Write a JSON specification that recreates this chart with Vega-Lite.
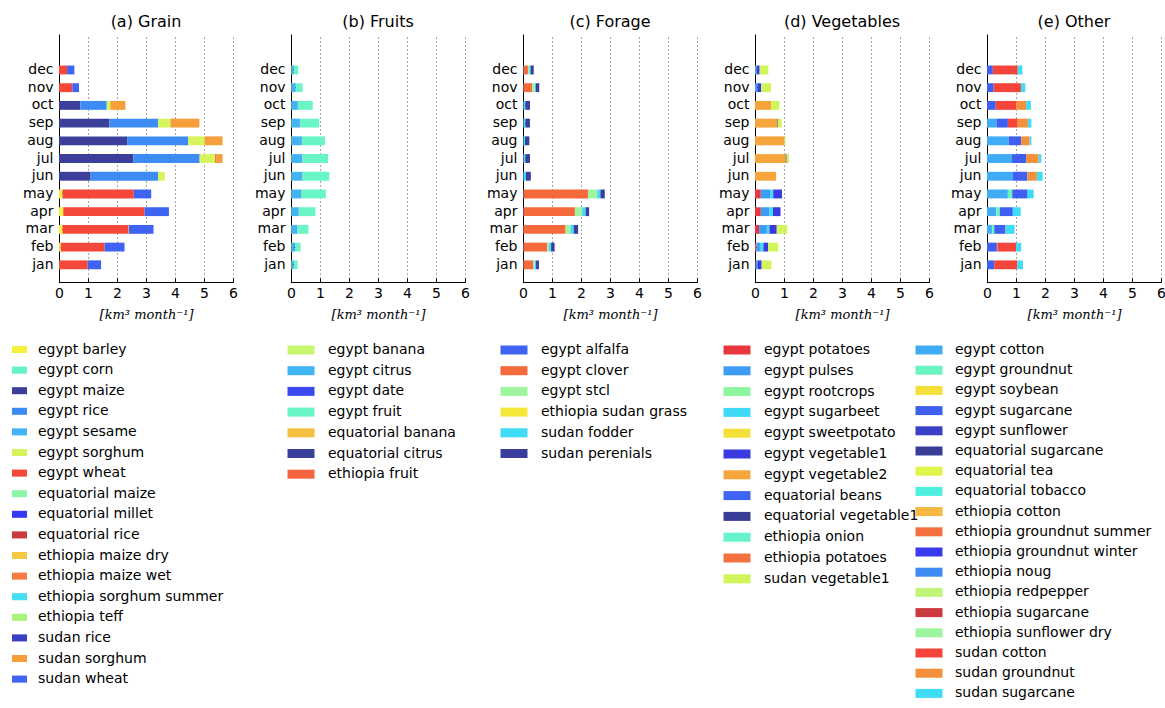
{
  "$schema": "https://vega.github.io/schema/vega-lite/v6.json",
  "padding": {"left": 12, "top": 14, "right": 2, "bottom": 2},
  "background": "white",
  "bounds": "flush",
  "spacing": 58,
  "config": {
    "view": {"stroke": null},
    "font": "DejaVu Sans",
    "title": {"fontSize": 16, "fontWeight": "normal", "color": "#000", "offset": 4, "font": "DejaVu Sans"},
    "bar": {"strokeWidth": 0, "height": {"band": 0.5}},
    "axisX": {
      "values": [0, 1, 2, 3, 4, 5, 6], "grid": true, "gridDash": [1, 3], "gridColor": "#000", "gridOpacity": 0.7,
      "domainColor": "#000", "tickColor": "#000", "tickSize": -4, "labelPadding": 8, "labelFontSize": 14, "labelColor": "#000",
      "labelFont": "DejaVu Sans", "labelFlush": false,
      "titleFont": "DejaVu Serif", "titleFontStyle": "italic", "titleFontWeight": "normal", "titleFontSize": 13, "titleColor": "#000", "titlePadding": 8
    },
    "axisY": {
      "grid": false, "domainColor": "#000", "tickColor": "#000", "tickSize": -4, "labelPadding": 10, "labelFontSize": 14, "labelColor": "#000", "labelFont": "DejaVu Sans", "title": null
    },
    "legend": {"title": null, "labelFontSize": 14, "labelFont": "DejaVu Sans", "labelColor": "#000", "labelLimit": 400, "symbolOpacity": 1, "symbolStrokeWidth": 0, "orient": "none"}
  },
  "datasets": {
    "grain": [
      {"m": "dec", "c": "egypt wheat", "v": 0.28}, {"m": "dec", "c": "sudan wheat", "v": 0.25},
      {"m": "nov", "c": "egypt wheat", "v": 0.46}, {"m": "nov", "c": "sudan wheat", "v": 0.23},
      {"m": "oct", "c": "egypt maize", "v": 0.74}, {"m": "oct", "c": "egypt rice", "v": 0.88}, {"m": "oct", "c": "egypt sesame", "v": 0.03}, {"m": "oct", "c": "egypt sorghum", "v": 0.12}, {"m": "oct", "c": "sudan sorghum", "v": 0.52},
      {"m": "sep", "c": "egypt maize", "v": 1.74}, {"m": "sep", "c": "egypt rice", "v": 1.68}, {"m": "sep", "c": "egypt sorghum", "v": 0.42}, {"m": "sep", "c": "sudan sorghum", "v": 1.0},
      {"m": "aug", "c": "egypt maize", "v": 2.35}, {"m": "aug", "c": "egypt rice", "v": 2.11}, {"m": "aug", "c": "egypt sorghum", "v": 0.56}, {"m": "aug", "c": "sudan sorghum", "v": 0.62},
      {"m": "jul", "c": "egypt maize", "v": 2.56}, {"m": "jul", "c": "egypt rice", "v": 2.29}, {"m": "jul", "c": "egypt sorghum", "v": 0.53}, {"m": "jul", "c": "ethiopia maize wet", "v": 0.06}, {"m": "jul", "c": "sudan sorghum", "v": 0.2},
      {"m": "jun", "c": "egypt maize", "v": 1.09}, {"m": "jun", "c": "egypt rice", "v": 2.33}, {"m": "jun", "c": "egypt sorghum", "v": 0.23},
      {"m": "may", "c": "egypt barley", "v": 0.12}, {"m": "may", "c": "egypt wheat", "v": 2.46}, {"m": "may", "c": "sudan wheat", "v": 0.6},
      {"m": "apr", "c": "egypt barley", "v": 0.15}, {"m": "apr", "c": "egypt wheat", "v": 2.8}, {"m": "apr", "c": "sudan wheat", "v": 0.84},
      {"m": "mar", "c": "egypt barley", "v": 0.12}, {"m": "mar", "c": "egypt wheat", "v": 2.27}, {"m": "mar", "c": "sudan sorghum", "v": 0.02}, {"m": "mar", "c": "sudan wheat", "v": 0.85},
      {"m": "feb", "c": "egypt barley", "v": 0.06}, {"m": "feb", "c": "egypt wheat", "v": 1.51}, {"m": "feb", "c": "sudan wheat", "v": 0.69},
      {"m": "jan", "c": "egypt barley", "v": 0.02}, {"m": "jan", "c": "egypt wheat", "v": 0.97}, {"m": "jan", "c": "sudan wheat", "v": 0.46}
    ],
    "fruits": [
      {"m": "dec", "c": "egypt banana", "v": 0.02}, {"m": "dec", "c": "egypt citrus", "v": 0.07}, {"m": "dec", "c": "egypt date", "v": 0.01}, {"m": "dec", "c": "egypt fruit", "v": 0.15},
      {"m": "nov", "c": "egypt banana", "v": 0.02}, {"m": "nov", "c": "egypt citrus", "v": 0.12}, {"m": "nov", "c": "egypt date", "v": 0.02}, {"m": "nov", "c": "egypt fruit", "v": 0.24},
      {"m": "oct", "c": "egypt banana", "v": 0.02}, {"m": "oct", "c": "egypt citrus", "v": 0.19}, {"m": "oct", "c": "egypt date", "v": 0.02}, {"m": "oct", "c": "egypt fruit", "v": 0.52},
      {"m": "sep", "c": "egypt banana", "v": 0.02}, {"m": "sep", "c": "egypt citrus", "v": 0.26}, {"m": "sep", "c": "egypt date", "v": 0.02}, {"m": "sep", "c": "egypt fruit", "v": 0.67},
      {"m": "aug", "c": "egypt banana", "v": 0.02}, {"m": "aug", "c": "egypt citrus", "v": 0.33}, {"m": "aug", "c": "egypt date", "v": 0.02}, {"m": "aug", "c": "egypt fruit", "v": 0.8},
      {"m": "jul", "c": "egypt banana", "v": 0.02}, {"m": "jul", "c": "egypt citrus", "v": 0.35}, {"m": "jul", "c": "egypt date", "v": 0.02}, {"m": "jul", "c": "egypt fruit", "v": 0.89},
      {"m": "jun", "c": "egypt banana", "v": 0.02}, {"m": "jun", "c": "egypt citrus", "v": 0.35}, {"m": "jun", "c": "egypt date", "v": 0.02}, {"m": "jun", "c": "egypt fruit", "v": 0.93},
      {"m": "may", "c": "egypt banana", "v": 0.02}, {"m": "may", "c": "egypt citrus", "v": 0.3}, {"m": "may", "c": "egypt date", "v": 0.02}, {"m": "may", "c": "egypt fruit", "v": 0.86},
      {"m": "apr", "c": "egypt banana", "v": 0.02}, {"m": "apr", "c": "egypt citrus", "v": 0.22}, {"m": "apr", "c": "egypt date", "v": 0.02}, {"m": "apr", "c": "egypt fruit", "v": 0.58},
      {"m": "mar", "c": "egypt banana", "v": 0.02}, {"m": "mar", "c": "egypt citrus", "v": 0.17}, {"m": "mar", "c": "egypt date", "v": 0.02}, {"m": "mar", "c": "egypt fruit", "v": 0.39},
      {"m": "feb", "c": "egypt banana", "v": 0.02}, {"m": "feb", "c": "egypt citrus", "v": 0.1}, {"m": "feb", "c": "egypt date", "v": 0.02}, {"m": "feb", "c": "egypt fruit", "v": 0.19},
      {"m": "jan", "c": "egypt banana", "v": 0.02}, {"m": "jan", "c": "egypt citrus", "v": 0.07}, {"m": "jan", "c": "egypt date", "v": 0.01}, {"m": "jan", "c": "egypt fruit", "v": 0.13}
    ],
    "forage": [
      {"m": "dec", "c": "egypt alfalfa", "v": 0.02}, {"m": "dec", "c": "egypt clover", "v": 0.15}, {"m": "dec", "c": "egypt stcl", "v": 0.05}, {"m": "dec", "c": "sudan fodder", "v": 0.04}, {"m": "dec", "c": "sudan perenials", "v": 0.11},
      {"m": "nov", "c": "egypt alfalfa", "v": 0.02}, {"m": "nov", "c": "egypt clover", "v": 0.3}, {"m": "nov", "c": "egypt stcl", "v": 0.08}, {"m": "nov", "c": "sudan fodder", "v": 0.04}, {"m": "nov", "c": "sudan perenials", "v": 0.12},
      {"m": "oct", "c": "egypt alfalfa", "v": 0.02}, {"m": "oct", "c": "sudan fodder", "v": 0.06}, {"m": "oct", "c": "sudan perenials", "v": 0.16},
      {"m": "sep", "c": "egypt alfalfa", "v": 0.02}, {"m": "sep", "c": "sudan fodder", "v": 0.06}, {"m": "sep", "c": "sudan perenials", "v": 0.16},
      {"m": "aug", "c": "egypt alfalfa", "v": 0.02}, {"m": "aug", "c": "sudan fodder", "v": 0.05}, {"m": "aug", "c": "sudan perenials", "v": 0.15},
      {"m": "jul", "c": "egypt alfalfa", "v": 0.02}, {"m": "jul", "c": "sudan fodder", "v": 0.06}, {"m": "jul", "c": "sudan perenials", "v": 0.16},
      {"m": "jun", "c": "egypt alfalfa", "v": 0.02}, {"m": "jun", "c": "sudan fodder", "v": 0.08}, {"m": "jun", "c": "sudan perenials", "v": 0.17},
      {"m": "may", "c": "egypt alfalfa", "v": 0.02}, {"m": "may", "c": "egypt clover", "v": 2.22}, {"m": "may", "c": "egypt stcl", "v": 0.32}, {"m": "may", "c": "sudan fodder", "v": 0.11}, {"m": "may", "c": "sudan perenials", "v": 0.15},
      {"m": "apr", "c": "egypt alfalfa", "v": 0.02}, {"m": "apr", "c": "egypt clover", "v": 1.77}, {"m": "apr", "c": "egypt stcl", "v": 0.25}, {"m": "apr", "c": "sudan fodder", "v": 0.12}, {"m": "apr", "c": "sudan perenials", "v": 0.12},
      {"m": "mar", "c": "egypt alfalfa", "v": 0.02}, {"m": "mar", "c": "egypt clover", "v": 1.45}, {"m": "mar", "c": "egypt stcl", "v": 0.17}, {"m": "mar", "c": "sudan fodder", "v": 0.11}, {"m": "mar", "c": "sudan perenials", "v": 0.15},
      {"m": "feb", "c": "egypt alfalfa", "v": 0.02}, {"m": "feb", "c": "egypt clover", "v": 0.82}, {"m": "feb", "c": "egypt stcl", "v": 0.06}, {"m": "feb", "c": "sudan fodder", "v": 0.07}, {"m": "feb", "c": "sudan perenials", "v": 0.12},
      {"m": "jan", "c": "egypt alfalfa", "v": 0.02}, {"m": "jan", "c": "egypt clover", "v": 0.34}, {"m": "jan", "c": "egypt stcl", "v": 0.04}, {"m": "jan", "c": "sudan fodder", "v": 0.05}, {"m": "jan", "c": "sudan perenials", "v": 0.1}
    ],
    "vegetables": [
      {"m": "dec", "c": "egypt pulses", "v": 0.06}, {"m": "dec", "c": "egypt vegetable1", "v": 0.1}, {"m": "dec", "c": "sudan vegetable1", "v": 0.3},
      {"m": "nov", "c": "egypt pulses", "v": 0.08}, {"m": "nov", "c": "egypt vegetable1", "v": 0.13}, {"m": "nov", "c": "sudan vegetable1", "v": 0.34},
      {"m": "oct", "c": "egypt vegetable2", "v": 0.56}, {"m": "oct", "c": "sudan vegetable1", "v": 0.28},
      {"m": "sep", "c": "egypt vegetable2", "v": 0.77}, {"m": "sep", "c": "equatorial vegetable1", "v": 0.02}, {"m": "sep", "c": "sudan vegetable1", "v": 0.13},
      {"m": "aug", "c": "egypt vegetable2", "v": 1.02}, {"m": "aug", "c": "sudan vegetable1", "v": 0.03},
      {"m": "jul", "c": "egypt vegetable2", "v": 1.06}, {"m": "jul", "c": "equatorial vegetable1", "v": 0.03}, {"m": "jul", "c": "sudan vegetable1", "v": 0.08},
      {"m": "jun", "c": "egypt vegetable2", "v": 0.73},
      {"m": "may", "c": "egypt potatoes", "v": 0.2}, {"m": "may", "c": "egypt pulses", "v": 0.32}, {"m": "may", "c": "egypt sugarbeet", "v": 0.11}, {"m": "may", "c": "egypt vegetable1", "v": 0.3},
      {"m": "apr", "c": "egypt potatoes", "v": 0.2}, {"m": "apr", "c": "egypt pulses", "v": 0.3}, {"m": "apr", "c": "egypt sugarbeet", "v": 0.12}, {"m": "apr", "c": "egypt vegetable1", "v": 0.26},
      {"m": "mar", "c": "egypt potatoes", "v": 0.14}, {"m": "mar", "c": "egypt pulses", "v": 0.27}, {"m": "mar", "c": "egypt sugarbeet", "v": 0.09}, {"m": "mar", "c": "egypt vegetable1", "v": 0.25}, {"m": "mar", "c": "sudan vegetable1", "v": 0.36},
      {"m": "feb", "c": "egypt potatoes", "v": 0.05}, {"m": "feb", "c": "egypt pulses", "v": 0.12}, {"m": "feb", "c": "egypt sugarbeet", "v": 0.12}, {"m": "feb", "c": "egypt vegetable1", "v": 0.16}, {"m": "feb", "c": "sudan vegetable1", "v": 0.35},
      {"m": "jan", "c": "egypt potatoes", "v": 0.02}, {"m": "jan", "c": "egypt pulses", "v": 0.08}, {"m": "jan", "c": "egypt vegetable1", "v": 0.13}, {"m": "jan", "c": "sudan vegetable1", "v": 0.34}
    ],
    "other": [
      {"m": "dec", "c": "egypt sugarcane", "v": 0.2}, {"m": "dec", "c": "sudan cotton", "v": 0.86}, {"m": "dec", "c": "sudan sugarcane", "v": 0.16},
      {"m": "nov", "c": "egypt sugarcane", "v": 0.23}, {"m": "nov", "c": "sudan cotton", "v": 0.94}, {"m": "nov", "c": "sudan sugarcane", "v": 0.15},
      {"m": "oct", "c": "egypt sugarcane", "v": 0.3}, {"m": "oct", "c": "sudan cotton", "v": 0.71}, {"m": "oct", "c": "sudan groundnut", "v": 0.34}, {"m": "oct", "c": "sudan sugarcane", "v": 0.16},
      {"m": "sep", "c": "egypt cotton", "v": 0.34}, {"m": "sep", "c": "egypt sugarcane", "v": 0.38}, {"m": "sep", "c": "sudan cotton", "v": 0.34}, {"m": "sep", "c": "sudan groundnut", "v": 0.35}, {"m": "sep", "c": "sudan sugarcane", "v": 0.12},
      {"m": "aug", "c": "egypt cotton", "v": 0.75}, {"m": "aug", "c": "egypt sugarcane", "v": 0.43}, {"m": "aug", "c": "sudan groundnut", "v": 0.29}, {"m": "aug", "c": "sudan sugarcane", "v": 0.06},
      {"m": "jul", "c": "egypt cotton", "v": 0.86}, {"m": "jul", "c": "egypt sugarcane", "v": 0.49}, {"m": "jul", "c": "sudan groundnut", "v": 0.43}, {"m": "jul", "c": "sudan sugarcane", "v": 0.09},
      {"m": "jun", "c": "egypt cotton", "v": 0.89}, {"m": "jun", "c": "egypt sugarcane", "v": 0.5}, {"m": "jun", "c": "sudan groundnut", "v": 0.33}, {"m": "jun", "c": "sudan sugarcane", "v": 0.2},
      {"m": "may", "c": "egypt cotton", "v": 0.72}, {"m": "may", "c": "egypt groundnut", "v": 0.15}, {"m": "may", "c": "egypt sugarcane", "v": 0.53}, {"m": "may", "c": "sudan sugarcane", "v": 0.21},
      {"m": "apr", "c": "egypt cotton", "v": 0.32}, {"m": "apr", "c": "egypt groundnut", "v": 0.12}, {"m": "apr", "c": "egypt sugarcane", "v": 0.45}, {"m": "apr", "c": "sudan sugarcane", "v": 0.27},
      {"m": "mar", "c": "egypt cotton", "v": 0.17}, {"m": "mar", "c": "egypt groundnut", "v": 0.08}, {"m": "mar", "c": "egypt sugarcane", "v": 0.38}, {"m": "mar", "c": "ethiopia sugarcane", "v": 0.01}, {"m": "mar", "c": "sudan sugarcane", "v": 0.31},
      {"m": "feb", "c": "egypt sugarcane", "v": 0.34}, {"m": "feb", "c": "ethiopia groundnut summer", "v": 0.03}, {"m": "feb", "c": "sudan cotton", "v": 0.63}, {"m": "feb", "c": "sudan sugarcane", "v": 0.18},
      {"m": "jan", "c": "egypt sugarcane", "v": 0.25}, {"m": "jan", "c": "sudan cotton", "v": 0.8}, {"m": "jan", "c": "sudan sugarcane", "v": 0.19}
    ]
  },
  "resolve": {"scale": {"color": "independent"}},
  "hconcat": [
    {
      "title": "(a) Grain", "width": 174, "height": 248, "data": {"name": "grain"}, "mark": "bar",
      "encoding": {
        "y": {"field": "m", "type": "nominal", "scale": {"domain": ["dec","nov","oct","sep","aug","jul","jun","may","apr","mar","feb","jan"], "paddingInner": 0, "paddingOuter": 1, "align": 0.765, "round": false}},
        "x": {"field": "v", "type": "quantitative", "stack": "zero", "scale": {"domain": [0, 6], "nice": false}, "title": "[km³ month⁻¹]"},
        "color": {"field": "c", "type": "nominal",
          "scale": {"domain": ["egypt barley","egypt corn","egypt maize","egypt rice","egypt sesame","egypt sorghum","egypt wheat","equatorial maize","equatorial millet","equatorial rice","ethiopia maize dry","ethiopia maize wet","ethiopia sorghum summer","ethiopia teff","sudan rice","sudan sorghum","sudan wheat"],
                    "range": ["#f4f23e","#66f2c8","#3b3f99","#3d8bf5","#40b4f5","#d6f55a","#f5483a","#8ef5a8","#3838f0","#cc3b3b","#f5c842","#f57b42","#42e0f0","#a8f57a","#3a3fbf","#f59e3a","#3f63f2"]},
          "legend": {"legendX": -47, "legendY": 308, "symbolType": "M-1,-0.47H1V0.47H-1Z", "symbolSize": 225, "rowPadding": 5.6, "labelOffset": 11}},
        "order": {"field": "c", "sort": "ascending"}
      }
    },
    {
      "title": "(b) Fruits", "width": 174, "height": 248, "data": {"name": "fruits"}, "mark": "bar",
      "encoding": {
        "y": {"field": "m", "type": "nominal", "scale": {"domain": ["dec","nov","oct","sep","aug","jul","jun","may","apr","mar","feb","jan"], "paddingInner": 0, "paddingOuter": 1, "align": 0.765, "round": false}},
        "x": {"field": "v", "type": "quantitative", "stack": "zero", "scale": {"domain": [0, 6], "nice": false}, "title": "[km³ month⁻¹]"},
        "color": {"field": "c", "type": "nominal",
          "scale": {"domain": ["egypt banana","egypt citrus","egypt date","egypt fruit","equatorial banana","equatorial citrus","ethiopia fruit"],
                    "range": ["#c8f56e","#40b4f5","#3a48f0","#6af5c8","#f5c040","#3a3f99","#f5663f"]},
          "legend": {"legendX": 1, "legendY": 307, "symbolType": "M-1.5,-0.5H1.5V0.5H-1.5Z", "symbolSize": 324, "rowPadding": 4.7, "labelOffset": 18}},
        "order": {"field": "c", "sort": "ascending"}
      }
    },
    {
      "title": "(c) Forage", "width": 174, "height": 248, "data": {"name": "forage"}, "mark": "bar",
      "encoding": {
        "y": {"field": "m", "type": "nominal", "scale": {"domain": ["dec","nov","oct","sep","aug","jul","jun","may","apr","mar","feb","jan"], "paddingInner": 0, "paddingOuter": 1, "align": 0.765, "round": false}},
        "x": {"field": "v", "type": "quantitative", "stack": "zero", "scale": {"domain": [0, 6], "nice": false}, "title": "[km³ month⁻¹]"},
        "color": {"field": "c", "type": "nominal",
          "scale": {"domain": ["egypt alfalfa","egypt clover","egypt stcl","ethiopia sudan grass","sudan fodder","sudan perenials"],
                    "range": ["#3f63f2","#f5693a","#9ef59e","#f5e63a","#3fdcf5","#3a3f9e"]},
          "legend": {"legendX": -18, "legendY": 307, "symbolType": "M-1.5,-0.5H1.5V0.5H-1.5Z", "symbolSize": 324, "rowPadding": 4.7, "labelOffset": 18}},
        "order": {"field": "c", "sort": "ascending"}
      }
    },
    {
      "title": "(d) Vegetables", "width": 174, "height": 248, "data": {"name": "vegetables"}, "mark": "bar",
      "encoding": {
        "y": {"field": "m", "type": "nominal", "scale": {"domain": ["dec","nov","oct","sep","aug","jul","jun","may","apr","mar","feb","jan"], "paddingInner": 0, "paddingOuter": 1, "align": 0.765, "round": false}},
        "x": {"field": "v", "type": "quantitative", "stack": "zero", "scale": {"domain": [0, 6], "nice": false}, "title": "[km³ month⁻¹]"},
        "color": {"field": "c", "type": "nominal",
          "scale": {"domain": ["egypt potatoes","egypt pulses","egypt rootcrops","egypt sugarbeet","egypt sweetpotato","egypt vegetable1","egypt vegetable2","equatorial beans","equatorial vegetable1","ethiopia onion","ethiopia potatoes","sudan vegetable1"],
                    "range": ["#e8383d","#3d9cf5","#8ef5a0","#3fd8f5","#f5e03a","#3a3ae0","#f5a53a","#3f63f2","#3a3d96","#66f2cc","#f5703f","#d0f55a"]},
          "legend": {"legendX": -27, "legendY": 307, "symbolType": "M-1.5,-0.5H1.5V0.5H-1.5Z", "symbolSize": 324, "rowPadding": 4.8, "labelOffset": 18}},
        "order": {"field": "c", "sort": "ascending"}
      }
    },
    {
      "title": "(e) Other", "width": 174, "height": 248, "data": {"name": "other"}, "mark": "bar",
      "encoding": {
        "y": {"field": "m", "type": "nominal", "scale": {"domain": ["dec","nov","oct","sep","aug","jul","jun","may","apr","mar","feb","jan"], "paddingInner": 0, "paddingOuter": 1, "align": 0.765, "round": false}},
        "x": {"field": "v", "type": "quantitative", "stack": "zero", "scale": {"domain": [0, 6], "nice": false}, "title": "[km³ month⁻¹]"},
        "color": {"field": "c", "type": "nominal",
          "scale": {"domain": ["egypt cotton","egypt groundnut","egypt soybean","egypt sugarcane","egypt sunflower","equatorial sugarcane","equatorial tea","equatorial tobacco","ethiopia cotton","ethiopia groundnut summer","ethiopia groundnut winter","ethiopia noug","ethiopia redpepper","ethiopia sugarcane","ethiopia sunflower dry","sudan cotton","sudan groundnut","sudan sugarcane"],
                    "range": ["#40acf5","#6af5c0","#f5e03a","#3f5ff0","#3a3fc8","#3a3d96","#e0f54a","#50f0e0","#f5b840","#f5703f","#3a3af0","#3f8af5","#c0f57a","#cc3a3f","#9ef5a0","#f5443a","#f5903a","#3fdcf5"]},
          "legend": {"legendX": -67, "legendY": 307, "symbolType": "M-1.5,-0.5H1.5V0.5H-1.5Z", "symbolSize": 324, "rowPadding": 4.2, "labelOffset": 17}},
        "order": {"field": "c", "sort": "ascending"}
      }
    }
  ]
}
